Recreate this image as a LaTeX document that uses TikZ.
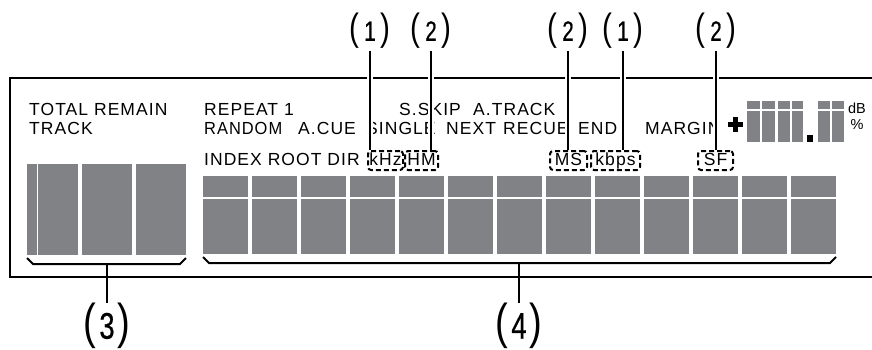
\documentclass[tikz,border=0pt]{standalone}
\usepackage{fontspec}
\setmainfont{Liberation Sans}
\newfontfamily\lcdfont[LetterSpace=6]{Liberation Sans}
\newfontfamily\numfont[FakeStretch=0.78]{Liberation Sans}
\newfontfamily\numboldfont[FakeStretch=0.74,FakeBold=0.6]{Liberation Sans}
\definecolor{seg}{RGB}{128,130,133}
% callout label: large parentheses around a condensed digit
\newcommand\toplbl[1]{{\numfont\fontsize{38}{38}\selectfont(}\hspace{5pt}{\numboldfont\fontsize{28}{28}\selectfont #1}\hspace{5pt}{\numfont\fontsize{38}{38}\selectfont)}}
\newcommand\botlbl[1]{{\numfont\fontsize{49}{49}\selectfont(}\hspace{3pt}{\numboldfont\fontsize{37}{37}\selectfont #1}\hspace{3pt}{\numfont\fontsize{49}{49}\selectfont)}}
\tikzset{
  lcd/.style={anchor=base west, inner sep=0pt, font=\lcdfont\fontsize{17.5}{17.5}\selectfont},
  dbox/.style={draw, line width=2pt, dash pattern=on 5pt off 3pt, rounded corners=3pt,
    inner xsep=0pt, inner ysep=0pt, minimum height=19pt, text height=12pt, text depth=3pt,
    anchor=base, font=\lcdfont\fontsize{17.5}{17.5}\selectfont},
  callout/.style={inner sep=0pt},
  leader/.style={line width=2pt, preaction={draw=white, line width=6pt}},
  stem/.style={line width=2pt},
  brace/.style={line width=2pt},
}
\begin{document}
\begin{tikzpicture}[x=1pt,y=-1pt]
\useasboundingbox (0,0) rectangle (872,349);

% display frame, open on the right
\draw[line width=2.5pt] (872,78) -- (10,78) -- (10,277) -- (872,277);

% indicator texts
\node[lcd] (tot) at (29,115) {TOTAL REMAIN};
\node[lcd] (trk) at (29,134) {TRACK};
\node[lcd] (rep) at (204,115) {REPEAT 1};
\node[lcd] (ssk) at (399,115) {S.SKIP};
\node[lcd] (atr) at (473,115) {A.TRACK};
\node[lcd] (rnd) at (204,134) {\scalebox{0.94}[1]{RANDOM}};
\node[lcd] (acu) at (298,134) {A.CUE};
\node[lcd] (sgl) at (366,134) {SINGLE};
\node[lcd] (nxt) at (446,134) {NEXT};
\node[lcd] (rcu) at (503,134) {RECUE};
\node[lcd] (end) at (578,134) {END};
\node[lcd] (mrg) at (645,134) {MARGIN};
\node[lcd] (idx) at (204,165) {INDEX ROOT DIR};

% dashed indicator boxes
\node[dbox, minimum width=35pt] (khz) at (385.5,165) {kHz};
\node[dbox, minimum width=33pt] (hm)  at (421.5,165) {HM};
\node[dbox, minimum width=37pt] (ms)  at (568.5,165) {MS};
\node[dbox, minimum width=49pt] (kbps) at (615.5,165) {kbps};
\node[dbox, minimum width=35pt] (sf)  at (715.5,165) {SF};

% level readout: sign, three digits, decimal point, units
\fill (728,122) rectangle (743,127);
\fill (733,117) rectangle (738,132);
\foreach \a/\b in {747/760,762/775,778/790,792/803,818/830,832/844}{
  \fill[seg] (\a,101) rectangle (\b,109);
  \fill[seg] (\a,110.5) rectangle (\b,142);
}
\fill (807,135) rectangle (813,142);
\node[inner sep=0pt, anchor=base, font=\fontsize{14.5}{14.5}\selectfont] (db) at (857,113) {dB};
\node[inner sep=0pt, anchor=base, font=\fontsize{14.5}{14.5}\selectfont] (pct) at (857,129) {\%};

% left digit block
\foreach \a/\b in {27/37,38/78,82/132,136/186}{
  \fill[seg] (\a,164) rectangle (\b,255);
}

% main character cells
\foreach \k in {0,...,12}{
  \fill[seg] ({203+49*\k},176) rectangle ({248+49*\k},254);
  \draw[white, line width=1.3pt] ({203+49*\k},198) -- ({248+49*\k},198);
}

% brackets under the digit groups
\draw[brace] (27,258) -- (33,264) -- (180,264) -- (186,258);
\draw[brace] (203,257) -- (209,263) -- (830,263) -- (836,257);
\coordinate (b3) at (107,264);
\coordinate (b4) at (519,263);

% callout labels
\node[callout] (c1a) at (370,31) {\toplbl{1}};
\node[callout] (c2a) at (431,31) {\toplbl{2}};
\node[callout] (c2b) at (568,31) {\toplbl{2}};
\node[callout] (c1b) at (623,31) {\toplbl{1}};
\node[callout] (c2c) at (716,31) {\toplbl{2}};
\node[callout] (c3) at (107,326) {\botlbl{3}};
\node[callout] (c4) at (519,326) {\botlbl{4}};

% leader lines
\draw[leader] (c1a.south) ++(0,2) -- (c1a.south |- khz.north);
\draw[leader] (c2a.south) ++(0,2) -- (c2a.south |- hm.north);
\draw[leader] (c2b.south) ++(0,2) -- (c2b.south |- ms.north);
\draw[leader] (c1b.south) ++(0,2) -- (c1b.south |- kbps.north);
\draw[leader] (c2c.south) ++(0,2) -- (c2c.south |- sf.north);
\draw[stem] (b3) -- (b3 |- c3.north);
\draw[stem] (b4) -- (b4 |- c4.north);
\end{tikzpicture}
\end{document}
